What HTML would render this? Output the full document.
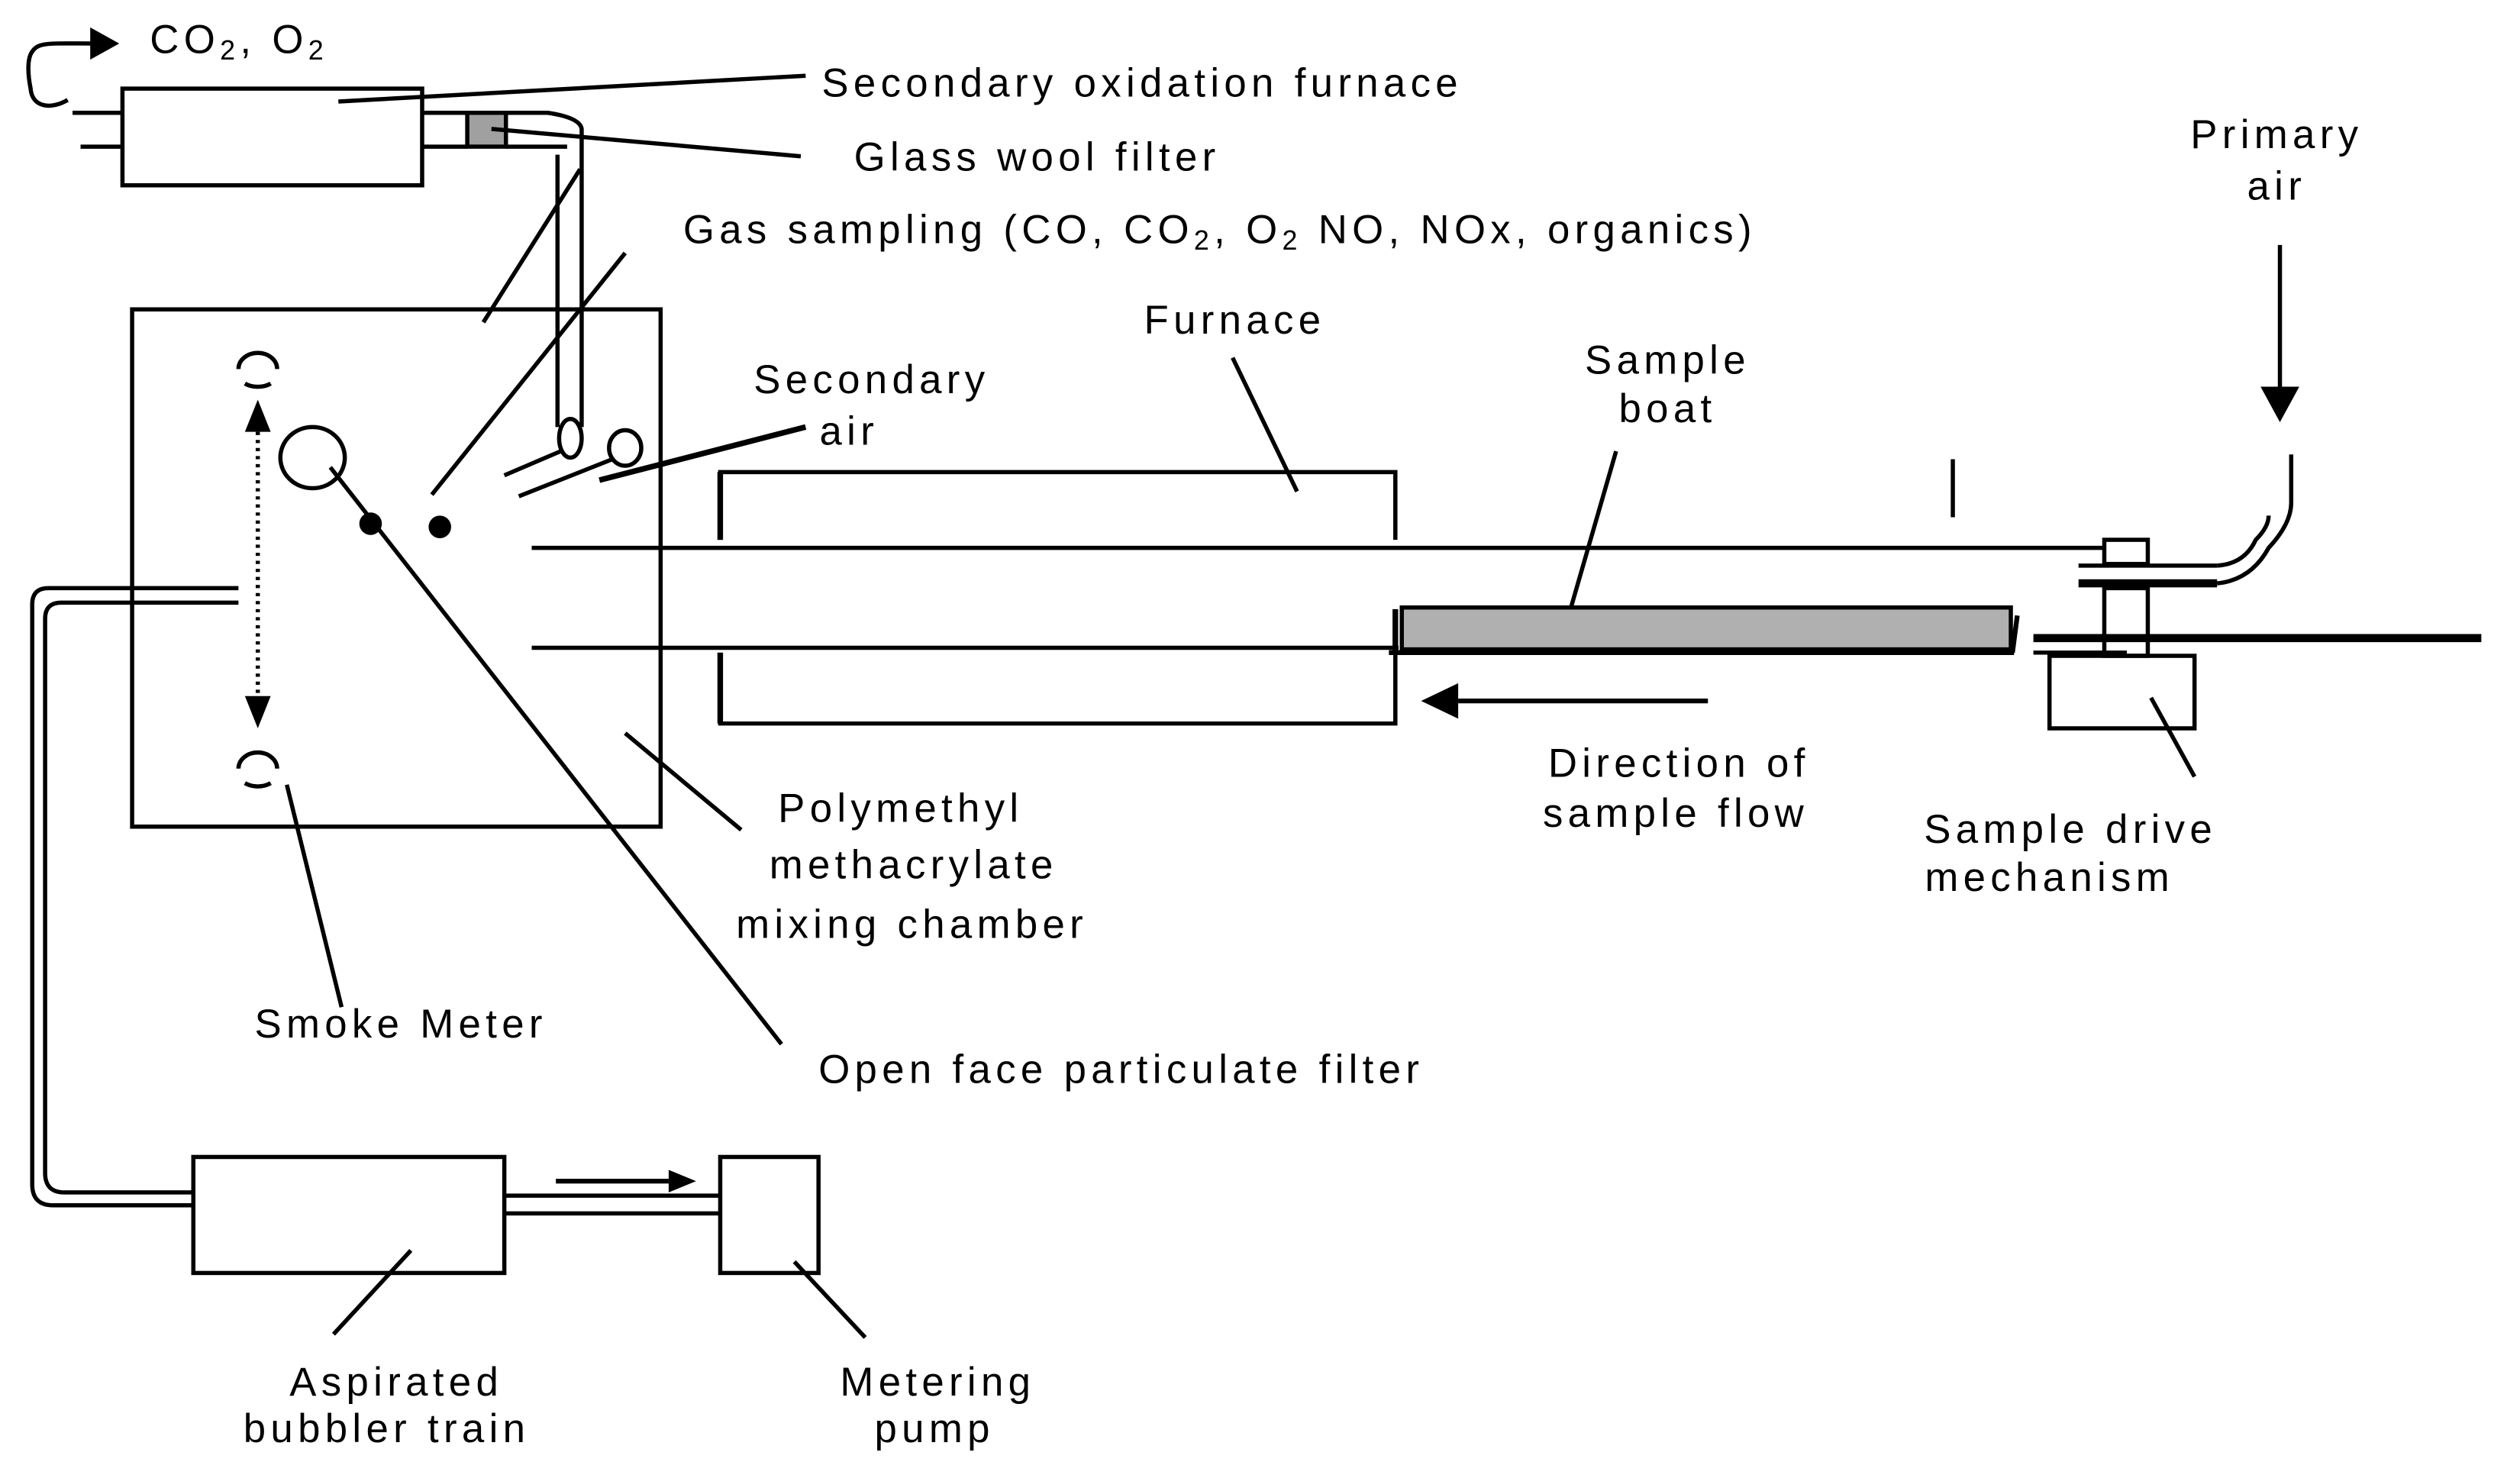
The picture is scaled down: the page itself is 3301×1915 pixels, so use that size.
<!DOCTYPE html>
<html><head><meta charset="utf-8"><style>
html,body{margin:0;padding:0;background:#fff}
svg{display:block}
text{font-family:"Liberation Sans",sans-serif;font-size:25px;letter-spacing:3px;fill:#000}
</style></head><body>
<svg width="3301" height="1915" viewBox="0 0 1564 907.3" preserveAspectRatio="none" xmlns="http://www.w3.org/2000/svg">
<g fill="none" stroke="#000" stroke-width="2.6">
<!-- curved arrow -->
<path d="M42,62 C32,68 20,67 19,55 C17,45 17,36 20,32 C24,26 30,27 60,27"/>
<!-- secondary furnace -->
<rect x="76" y="55" width="186" height="60"/>
<line x1="45" y1="70" x2="76" y2="70"/><line x1="50" y1="91" x2="76" y2="91"/>
<line x1="262" y1="70" x2="290" y2="70"/><line x1="262" y1="91" x2="290" y2="91"/>
<rect x="290" y="70" width="24" height="21" fill="#a0a0a0"/>
<path d="M314,70 L340,70 Q360,73 361,80 L361,265"/>
<path d="M314,91 L352,91 M346,96 L346,265"/>
<line x1="210" y1="63" x2="500" y2="47"/>
<line x1="305" y1="80" x2="497" y2="97"/>
<line x1="300" y1="200" x2="360" y2="105"/>
<line x1="268" y1="307" x2="388" y2="157"/>
<ellipse cx="354" cy="272" rx="7" ry="12"/>
<ellipse cx="388" cy="278" rx="10" ry="11"/>
<line x1="313" y1="295" x2="348" y2="280"/>
<line x1="322" y1="308" x2="380" y2="285"/>
<line x1="372" y1="298" x2="500" y2="265" stroke-width="3.5"/>
<!-- mixing chamber -->
<rect x="82" y="192" width="328" height="321"/>
<path d="M148,229 A12,10 0 0 1 172,229"/><path d="M152,238 A12,8 0 0 0 168,238"/>
<path d="M148,477 A12,10 0 0 1 172,477"/><path d="M152,486 A12,8 0 0 0 168,486" />
<line x1="160" y1="268" x2="160" y2="432" stroke-dasharray="2,3"/>
<ellipse cx="194" cy="284" rx="20" ry="19"/>
<line x1="205" y1="290" x2="485" y2="648"/>
<line x1="178" y1="487" x2="212" y2="625"/>
<line x1="388" y1="455" x2="460" y2="515"/>
<!-- furnace -->
<line x1="330" y1="340" x2="1305" y2="340"/>
<line x1="330" y1="402" x2="868" y2="402"/>
<path d="M447,335 L447,293 L866,293 L866,335"/>
<path d="M447,405 L447,449 L866,449 L866,405"/>
<line x1="447" y1="293" x2="447" y2="335" stroke-width="3.5"/>
<line x1="447" y1="405" x2="447" y2="449" stroke-width="3.5"/>
<line x1="805" y1="305" x2="765" y2="222"/>
<rect x="870" y="377" width="378" height="26" fill="#b0b0b0"/>
<line x1="866" y1="378" x2="866" y2="405" stroke-width="3.5"/>
<line x1="862" y1="405" x2="1250" y2="405" stroke-width="3"/>
<line x1="975" y1="377" x2="1003" y2="280"/>
<line x1="1212" y1="285" x2="1212" y2="321"/>
<line x1="1252" y1="382" x2="1249" y2="405" stroke-width="3"/>
<!-- right mechanism -->
<rect x="1306" y="335" width="27" height="15"/>
<line x1="1290" y1="351" x2="1376" y2="351"/>
<line x1="1290" y1="362" x2="1376" y2="362" stroke-width="5"/>
<path d="M1376,351 Q1393,350 1400,335 Q1408,327 1408,320"/>
<path d="M1376,362 Q1397,360 1408,340 Q1422,325 1422,312 L1422,282"/>
<rect x="1306" y="365" width="27" height="42"/>
<line x1="1262" y1="396" x2="1540" y2="396" stroke-width="5"/>
<line x1="1262" y1="405" x2="1320" y2="405"/>
<rect x="1272" y="407" width="90" height="45"/>
<line x1="1335" y1="433" x2="1362" y2="482"/>
<line x1="1415" y1="152" x2="1415" y2="242"/>
<line x1="1060" y1="435" x2="905" y2="435" stroke-width="3"/>
<!-- bottom tubes -->
<path d="M148,365 L30,365 Q20,365 20,375 L20,735 Q20,748 33,748 L120,748"/>
<path d="M148,374 L38,374 Q28,374 28,384 L28,728 Q28,740 40,740 L120,740"/>
<rect x="120" y="718" width="193" height="72"/>
<line x1="313" y1="742" x2="447" y2="742"/><line x1="313" y1="753" x2="447" y2="753"/>
<rect x="447" y="718" width="61" height="72"/>
<line x1="345" y1="733" x2="415" y2="733" stroke-width="3"/>
<line x1="207" y1="828" x2="255" y2="776"/>
<line x1="537" y1="830" x2="493" y2="783"/>
</g>
<g fill="#000">
<polygon points="56,17 74,27 56,37"/>
<polygon points="152,268 160,248 168,268"/>
<polygon points="152,432 160,452 168,432"/>
<circle cx="230" cy="325" r="7"/><circle cx="273" cy="327" r="7"/>
<polygon points="1403,240 1427,240 1415,262"/>
<polygon points="905,424 905,446 882,435"/>
<polygon points="415,726 432,733 415,740"/>
</g>
<text x="93" y="33">CO<tspan font-size="17" dy="4">2</tspan><tspan dy="-4">, O</tspan><tspan font-size="17" dy="4">2</tspan></text>
<text x="510" y="60">Secondary oxidation furnace</text>
<text x="530" y="106">Glass wool filter</text>
<text x="424" y="151">Gas sampling (CO, CO<tspan font-size="17" dy="4">2</tspan><tspan dy="-4">, O</tspan><tspan font-size="17" dy="4">2</tspan><tspan dy="-4"> NO, NOx, organics)</tspan></text>
<g text-anchor="middle">
<text x="1413" y="92">Primary</text><text x="1413" y="124">air</text>
<text x="1035" y="232">Sample</text><text x="1035" y="262">boat</text>
<text x="541" y="244">Secondary</text><text x="527" y="276">air</text>
<text x="559" y="510">Polymethyl</text><text x="567" y="545">methacrylate</text><text x="566" y="582">mixing chamber</text>
<text x="1042" y="482">Direction of</text><text x="1040" y="513">sample flow</text>
<text x="1285" y="523">Sample drive</text><text x="1272" y="553">mechanism</text>
<text x="246" y="866">Aspirated</text><text x="240" y="895">bubbler train</text>
<text x="582" y="866">Metering</text><text x="580" y="895">pump</text>
</g>
<text x="710" y="207">Furnace</text>
<text x="158" y="644">Smoke Meter</text>
<text x="508" y="672">Open face particulate filter</text>
</svg>
</body></html>
